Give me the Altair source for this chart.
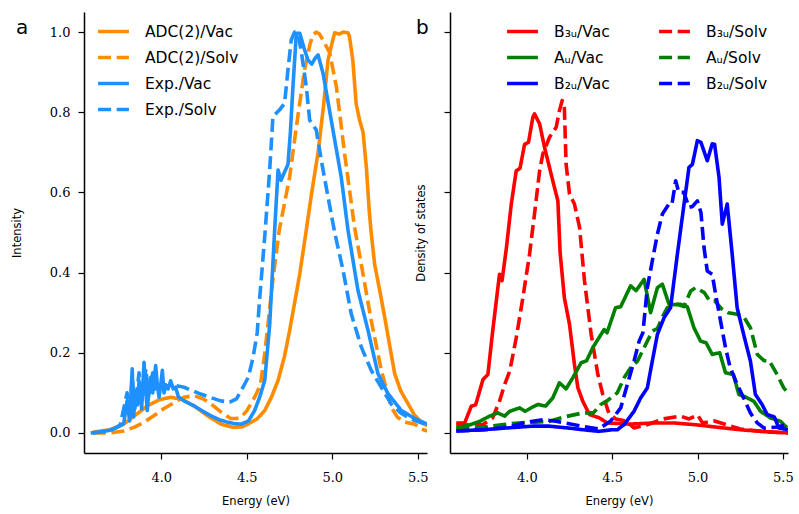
import altair as alt
import pandas as pd

# ---------------- panel a data ----------------
adc_vac_x = [3.60, 3.70, 3.78, 3.85, 3.92, 3.99, 4.055, 4.12, 4.20, 4.28, 4.35, 4.42, 4.47, 4.507,
             4.56, 4.605, 4.645, 4.683, 4.72, 4.751, 4.78, 4.81, 4.848, 4.88, 4.917, 4.95, 4.975,
             5.00, 5.014, 5.04, 5.065, 5.092, 5.10, 5.12, 5.14, 5.16, 5.18, 5.20, 5.215, 5.226,
             5.248, 5.28, 5.306, 5.335, 5.365, 5.40, 5.443, 5.48, 5.52, 5.556]
adc_vac_y = [0.002, 0.008, 0.022, 0.045, 0.068, 0.083, 0.089, 0.084, 0.065, 0.040, 0.022, 0.014,
             0.015, 0.022, 0.035, 0.056, 0.090, 0.131, 0.190, 0.256, 0.325, 0.397, 0.506, 0.600,
             0.700, 0.820, 0.930, 0.975, 0.998, 0.995, 1.0, 0.998, 0.99, 0.93, 0.82, 0.78, 0.75,
             0.66, 0.56, 0.506, 0.42, 0.35, 0.29, 0.22, 0.148, 0.105, 0.073, 0.045, 0.027, 0.018]

adc_solv_x = [3.60, 3.70, 3.78, 3.84, 3.90, 3.96, 4.016, 4.08, 4.133, 4.19, 4.24, 4.289, 4.35,
              4.406, 4.44, 4.466, 4.50, 4.546, 4.58, 4.605, 4.652, 4.69, 4.751, 4.79, 4.838, 4.87,
              4.887, 4.906, 4.925, 4.946, 4.985, 5.024, 5.072, 5.13, 5.17, 5.228, 5.287, 5.345,
              5.38, 5.423, 5.482, 5.52, 5.556]
adc_solv_y = [0.0, 0.0, 0.005, 0.014, 0.027, 0.044, 0.061, 0.077, 0.089, 0.093, 0.086, 0.073,
              0.052, 0.036, 0.036, 0.039, 0.055, 0.089, 0.12, 0.198, 0.38, 0.506, 0.639, 0.764,
              0.906, 0.97, 0.993, 1.0, 0.995, 0.98, 0.948, 0.864, 0.697, 0.514, 0.42, 0.28, 0.156,
              0.064, 0.04, 0.027, 0.022, 0.01, 0.005]

exp_vac_x = [3.587, 3.65, 3.70, 3.743, 3.78, 3.80, 3.815, 3.83, 3.838, 3.85, 3.86, 3.87, 3.885,
             3.899, 3.91, 3.918, 3.928, 3.938, 3.95, 3.967, 3.977, 3.987, 3.997, 4.006, 4.016,
             4.026, 4.04, 4.055, 4.07, 4.084, 4.10, 4.133, 4.19, 4.24, 4.289, 4.34, 4.386, 4.43,
             4.468, 4.51, 4.546, 4.576, 4.605, 4.634, 4.663, 4.683, 4.70, 4.72, 4.741, 4.755, 4.77,
             4.79, 4.81, 4.835, 4.858, 4.88, 4.90, 4.917, 4.946, 4.994, 5.052, 5.092, 5.15, 5.209,
             5.267, 5.326, 5.404, 5.482, 5.556]
exp_vac_y = [0.0, 0.003, 0.007, 0.014, 0.023, 0.08, 0.03, 0.16, 0.04, 0.105, 0.07, 0.13, 0.06,
             0.176, 0.10, 0.056, 0.11, 0.139, 0.10, 0.168, 0.12, 0.089, 0.12, 0.156, 0.10, 0.12,
             0.11, 0.13, 0.11, 0.114, 0.09, 0.08, 0.068, 0.055, 0.043, 0.033, 0.027, 0.023, 0.022,
             0.03, 0.056, 0.09, 0.131, 0.27, 0.506, 0.656, 0.63, 0.65, 0.67, 0.75, 0.864, 0.997,
             0.997, 0.96, 0.93, 0.92, 0.935, 0.943, 0.897, 0.78, 0.639, 0.506, 0.356, 0.256, 0.148,
             0.098, 0.056, 0.036, 0.022]

exp_solv_x = [3.60, 3.70, 3.76, 3.80, 3.815, 3.83, 3.845, 3.87, 3.885, 3.91, 3.925, 3.95, 3.965,
              3.99, 4.02, 4.06, 4.133, 4.23, 4.347, 4.40, 4.44, 4.478, 4.51, 4.537, 4.561, 4.576,
              4.605, 4.634, 4.653, 4.692, 4.721, 4.741, 4.76, 4.78, 4.80, 4.82, 4.848, 4.868,
              4.906, 4.936, 4.975, 5.014, 5.063, 5.111, 5.17, 5.228, 5.287, 5.345, 5.40, 5.46, 5.556]
exp_solv_y = [0.0, 0.005, 0.02, 0.10, 0.04, 0.14, 0.06, 0.15, 0.08, 0.16, 0.09, 0.15, 0.11, 0.13,
              0.115, 0.12, 0.114, 0.097, 0.08, 0.077, 0.085, 0.114, 0.14, 0.189, 0.25, 0.339, 0.49,
              0.656, 0.789, 0.806, 0.822, 0.906, 0.98, 1.0, 0.997, 0.948, 0.864, 0.78, 0.756, 0.68,
              0.589, 0.50, 0.406, 0.297, 0.214, 0.156, 0.114, 0.072, 0.05, 0.035, 0.02]

# ---------------- panel b data ----------------
b3u_vac_x = [3.587, 3.636, 3.675, 3.70, 3.743, 3.772, 3.80, 3.84, 3.855, 3.88, 3.909, 3.938, 3.96,
             3.987, 4.01, 4.035, 4.045, 4.075, 4.104, 4.133, 4.162, 4.182, 4.195, 4.22, 4.25,
             4.279, 4.299, 4.328, 4.367, 4.425, 4.472, 4.60, 4.75, 4.862, 5.0, 5.1, 5.25, 5.40, 5.53]
b3u_vac_y = [0.025, 0.025, 0.067, 0.07, 0.133, 0.146, 0.254, 0.396, 0.38, 0.46, 0.571, 0.654, 0.66,
             0.72, 0.725, 0.787, 0.796, 0.771, 0.712, 0.662, 0.612, 0.579, 0.45, 0.337, 0.271,
             0.171, 0.113, 0.079, 0.046, 0.0375, 0.025, 0.022, 0.025, 0.025, 0.02, 0.015, 0.008,
             0.003, 0.0]

b3u_solv_x = [3.587, 3.65, 3.743, 3.80, 3.84, 3.87, 3.90, 3.938, 3.977, 4.016, 4.045, 4.075, 4.094,
              4.133, 4.172, 4.191, 4.207, 4.22, 4.23, 4.25, 4.279, 4.309, 4.338, 4.377, 4.416,
              4.445, 4.48, 4.52, 4.58, 4.628, 4.70, 4.80, 4.90, 4.95, 5.0, 5.03, 5.10, 5.25, 5.40, 5.53]
b3u_solv_y = [0.021, 0.02, 0.021, 0.0375, 0.079, 0.121, 0.154, 0.2375, 0.3375, 0.446, 0.546, 0.654,
              0.696, 0.7375, 0.7625, 0.804, 0.829, 0.81, 0.671, 0.596, 0.571, 0.5125, 0.379, 0.246,
              0.146, 0.096, 0.05, 0.035, 0.03, 0.0125, 0.02, 0.035, 0.042, 0.035, 0.045, 0.025,
              0.03, 0.01, 0.003, 0.0]

au_vac_x = [3.587, 3.665, 3.724, 3.782, 3.83, 3.87, 3.90, 3.958, 3.99, 4.035, 4.065, 4.11, 4.152,
            4.191, 4.23, 4.269, 4.318, 4.35, 4.386, 4.416, 4.453, 4.47, 4.52, 4.55, 4.608, 4.64,
            4.687, 4.725, 4.765, 4.794, 4.833, 4.86, 4.90, 4.94, 4.979, 5.018, 5.05, 5.086, 5.13,
            5.164, 5.21, 5.242, 5.28, 5.33, 5.369, 5.427, 5.486, 5.525]
au_vac_y = [0.0125, 0.02, 0.029, 0.042, 0.05, 0.042, 0.054, 0.0625, 0.054, 0.065, 0.071, 0.067,
            0.0875, 0.125, 0.11, 0.1375, 0.175, 0.18, 0.2125, 0.233, 0.258, 0.25, 0.3125, 0.315,
            0.367, 0.355, 0.383, 0.30, 0.3625, 0.371, 0.321, 0.32, 0.321, 0.315, 0.2625, 0.229,
            0.225, 0.196, 0.2, 0.15, 0.146, 0.096, 0.09, 0.079, 0.054, 0.0375, 0.029, 0.0125]

au_solv_x = [3.587, 3.70, 3.84, 3.95, 4.05, 4.133, 4.22, 4.328, 4.39, 4.433, 4.47, 4.53, 4.57,
             4.608, 4.648, 4.687, 4.735, 4.765, 4.795, 4.823, 4.882, 4.92, 4.96, 4.989, 5.04, 5.07,
             5.10, 5.14, 5.18, 5.232, 5.27, 5.31, 5.35, 5.39, 5.42, 5.466, 5.505, 5.53]
au_solv_y = [0.01, 0.012, 0.02, 0.025, 0.027, 0.029, 0.04, 0.05, 0.05, 0.071, 0.08, 0.10, 0.1375,
             0.1625, 0.179, 0.2125, 0.254, 0.26, 0.29, 0.3125, 0.321, 0.315, 0.354, 0.3625, 0.35,
             0.33, 0.33, 0.31, 0.30, 0.296, 0.29, 0.2625, 0.196, 0.18, 0.18, 0.146, 0.1125, 0.1]

b2u_vac_x = [3.587, 3.74, 3.90, 4.035, 4.13, 4.25, 4.33, 4.42, 4.50, 4.53, 4.57, 4.628, 4.667,
             4.706, 4.735, 4.765, 4.804, 4.842, 4.882, 4.921, 4.95, 4.97, 4.999, 5.02, 5.057, 5.086,
             5.10, 5.126, 5.145, 5.174, 5.203, 5.232, 5.27, 5.31, 5.339, 5.378, 5.408, 5.45, 5.476, 5.53]
b2u_vac_y = [0.005, 0.008, 0.013, 0.017, 0.017, 0.012, 0.008, 0.004, 0.008, 0.008, 0.021, 0.054,
             0.0875, 0.1125, 0.179, 0.246, 0.2875, 0.3125, 0.446, 0.571, 0.6625, 0.67, 0.729,
             0.725, 0.679, 0.721, 0.72, 0.6375, 0.521, 0.571, 0.446, 0.3125, 0.246, 0.179, 0.096,
             0.071, 0.046, 0.04, 0.0125, 0.008]

b2u_solv_x = [3.587, 3.75, 3.90, 3.98, 4.035, 4.10, 4.17, 4.27, 4.35, 4.42, 4.49, 4.55, 4.589,
              4.628, 4.658, 4.68, 4.706, 4.735, 4.765, 4.794, 4.833, 4.85, 4.872, 4.89, 4.92, 4.95,
              4.97, 4.999, 5.02, 5.038, 5.057, 5.086, 5.106, 5.135, 5.164, 5.19, 5.232, 5.27, 5.31,
              5.35, 5.39, 5.47, 5.51, 5.53]
b2u_solv_y = [0.005, 0.008, 0.015, 0.025, 0.029, 0.033, 0.029, 0.021, 0.015, 0.01, 0.029, 0.0625,
              0.121, 0.179, 0.229, 0.25, 0.3625, 0.429, 0.496, 0.546, 0.571, 0.57, 0.629, 0.60,
              0.60, 0.5625, 0.565, 0.579, 0.55, 0.4625, 0.404, 0.396, 0.346, 0.279, 0.2125, 0.165,
              0.121, 0.0875, 0.05, 0.025, 0.012, 0.015, 0.02, 0.025]

SOLID = [1, 0]
DASH = [13, 5.6]

left_names = ["ADC(2)/Vac", "ADC(2)/Solv", "Exp./Vac", "Exp./Solv"]
left_colors = ["#ff8c00", "#ff8c00", "#1e90ff", "#1e90ff"]
left_dashes = [SOLID, DASH, SOLID, DASH]
left_x = [adc_vac_x, adc_solv_x, exp_vac_x, exp_solv_x]
left_y = [adc_vac_y, adc_solv_y, exp_vac_y, exp_solv_y]

# drawing order (as in the original plot)
right_names = ["B₃ᵤ/Vac", "B₃ᵤ/Solv", "Aᵤ/Vac", "Aᵤ/Solv", "B₂ᵤ/Vac", "B₂ᵤ/Solv"]
right_x = [b3u_vac_x, b3u_solv_x, au_vac_x, au_solv_x, b2u_vac_x, b2u_solv_x]
right_y = [b3u_vac_y, b3u_solv_y, au_vac_y, au_solv_y, b2u_vac_y, b2u_solv_y]
# legend order (legend columns fill top to bottom: Vac column, then Solv column)
right_legend_order = ["B₃ᵤ/Vac", "Aᵤ/Vac", "B₂ᵤ/Vac", "B₃ᵤ/Solv", "Aᵤ/Solv", "B₂ᵤ/Solv"]
right_colors = ["#ff0000", "#008000", "#0000ff", "#ff0000", "#008000", "#0000ff"]
right_dashes = [SOLID, SOLID, SOLID, DASH, DASH, DASH]

x_ticks = [4.0, 4.5, 5.0, 5.5]
y_ticks = [0.0, 0.2, 0.4, 0.6, 0.8, 1.0]

LW = 3.6
H = 441

TICK_FONT = "DejaVu Serif"
SANS = "DejaVu Sans"


def x_axis():
    return alt.Axis(values=x_ticks, format=".1f", title="Energy (eV)", grid=False,
                    labelFont=TICK_FONT, labelFontSize=13, labelPadding=12,
                    titleFont=SANS, titleFontSize=11.5, titleFontWeight="normal", titlePadding=11,
                    tickSize=6, tickWidth=1.2, domainWidth=1.5, domainColor="black",
                    tickColor="black", labelColor="black", titleColor="black")


def panel(names, legend_order, colors, dashes, xs, ys, xdom, width, yaxis, legend, letter, letter_x):
    layers = []
    for n, x, y in zip(names, xs, ys):
        df = pd.DataFrame({"Energy": x, "Value": y, "series": n, "i": list(range(len(x)))})
        layers.append(
            alt.Chart(df).mark_line(strokeWidth=LW, strokeCap="butt", strokeJoin="round", clip=True)
            .encode(
                x=alt.X("Energy:Q", scale=alt.Scale(domain=xdom, nice=False, zero=False), axis=x_axis()),
                y=alt.Y("Value:Q", scale=alt.Scale(domain=[-0.05, 1.05], nice=False, zero=False), axis=yaxis),
                color=alt.Color("series:N", scale=alt.Scale(domain=legend_order, range=colors), legend=legend),
                strokeDash=alt.StrokeDash("series:N", scale=alt.Scale(domain=legend_order, range=dashes), legend=legend),
                order=alt.Order("i:Q"),
            )
        )
    txt = alt.Chart(alt.Data(values=[{"t": letter}])).mark_text(
        font=SANS, fontSize=20, align="left", baseline="alphabetic", color="black"
    ).encode(x=alt.value(letter_x), y=alt.value(21.6), text="t:N")
    return alt.layer(*layers, txt).properties(width=width, height=H)


left_yaxis = alt.Axis(values=y_ticks, format=".1f", title="Intensity", grid=False,
                      labelFont=TICK_FONT, labelFontSize=13, labelPadding=8,
                      titleFont=SANS, titleFontSize=11.5, titleFontWeight="normal", titlePadding=27,
                      tickSize=6, tickWidth=1.2, domainWidth=1.5, domainColor="black",
                      tickColor="black", labelColor="black", titleColor="black")
right_yaxis = alt.Axis(values=y_ticks, labels=False, title="Density of states", grid=False,
                       titleFont=SANS, titleFontSize=11.5, titleFontWeight="normal", titlePadding=17,
                       tickSize=6, tickWidth=1.2, domainWidth=1.5, domainColor="black",
                       tickColor="black", titleColor="black")

SYM = 950
left_legend = alt.Legend(title=None, orient="none", legendX=12, legendY=2, symbolType="stroke",
                         symbolSize=SYM, symbolStrokeWidth=LW, labelFont=SANS, labelFontSize=15.5,
                         labelOffset=14, rowPadding=0, labelColor="black", padding=0)
right_legend = alt.Legend(title=None, orient="none", legendX=55, legendY=2, symbolType="stroke",
                          symbolSize=SYM, symbolStrokeWidth=LW, labelFont=SANS, labelFontSize=15.5,
                          labelOffset=14, rowPadding=0, columns=2, columnPadding=41,
                          labelColor="black", padding=0)

left = panel(left_names, left_names, left_colors, left_dashes, left_x, left_y,
             [3.548, 5.554], 343, left_yaxis, left_legend, "a", -68)
right = panel(right_names, right_legend_order, right_colors, right_dashes, right_x, right_y,
              [3.55, 5.53], 338, right_yaxis, right_legend, "b", -34)

chart = (
    alt.hconcat(left, right, spacing=23, bounds="flush")
    .resolve_scale(x="independent", y="independent", color="independent", strokeDash="independent")
    .resolve_legend(color="independent", strokeDash="independent")
    .configure_view(stroke=None)
    .properties(padding={"left": 11, "top": 12, "right": 2, "bottom": 4},
                autosize=alt.AutoSizeParams(type="pad"), background="white")
)

chart.save("out.html", embed_options={"renderer": "svg", "actions": False})
